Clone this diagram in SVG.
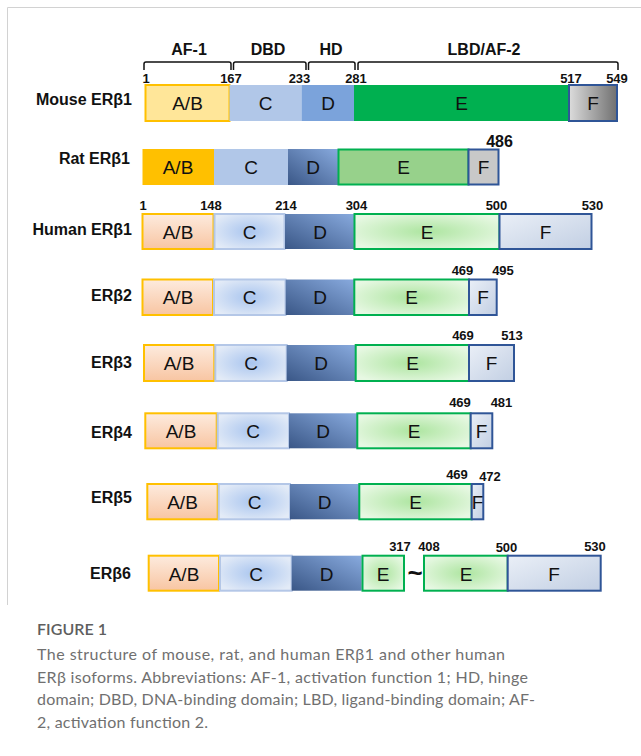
<svg xmlns="http://www.w3.org/2000/svg" width="641" height="756" viewBox="0 0 641 756">
<style>
.lbl{font-family:"Liberation Sans",Arial,sans-serif;font-weight:bold;font-size:16px;fill:#111;text-anchor:end}
.br{font-family:"Liberation Sans",Arial,sans-serif;font-weight:bold;font-size:16px;fill:#111;text-anchor:middle}
.num{font-family:"Liberation Sans",Arial,sans-serif;font-weight:bold;font-size:13px;fill:#111;text-anchor:middle}
.dom{font-family:"Liberation Sans",Arial,sans-serif;font-size:19px;fill:#111;text-anchor:middle}
.brk{fill:none;stroke:#111;stroke-width:1.5}
.ab{fill:url(#abG);stroke:#FFC000;stroke-width:2}
.c{fill:url(#cG);stroke:#B4C7E7;stroke-width:2}
.d{fill:url(#dG)}
.e{fill:url(#eG);stroke:#00B050;stroke-width:2}
.f{fill:url(#fG);stroke:#2F5597;stroke-width:2}
.cap{font-family:"Lato","Open Sans",sans-serif;font-size:16px;fill:#707070}
</style>
<defs>
<linearGradient id="abG" x1="0" y1="0" x2="0" y2="1"><stop offset="0" stop-color="#FDEBDE"/><stop offset="1" stop-color="#F8C5A2"/></linearGradient>
<radialGradient id="cG" cx="0.5" cy="0.5" r="0.6"><stop offset="0" stop-color="#A9C5EF"/><stop offset="1" stop-color="#E3EBF7"/></radialGradient>
<linearGradient id="dG" x1="0" y1="1" x2="1" y2="0"><stop offset="0" stop-color="#3A5787"/><stop offset="1" stop-color="#88AADE"/></linearGradient>
<radialGradient id="eG" cx="0.5" cy="0.5" r="0.6"><stop offset="0" stop-color="#ADE5A0"/><stop offset="1" stop-color="#E7F8E3"/></radialGradient>
<linearGradient id="fG" x1="0" y1="0" x2="1" y2="1"><stop offset="0" stop-color="#EAEFF7"/><stop offset="1" stop-color="#C2CFE3"/></linearGradient>
<linearGradient id="mF" x1="0" y1="0" x2="1" y2="0"><stop offset="0" stop-color="#DCDCDC"/><stop offset="1" stop-color="#707070"/></linearGradient>
</defs>
<rect width="641" height="756" fill="#fff"/>
<path d="M7.5,605 V7.5 H641" fill="none" stroke="#d2d2d2" stroke-width="1"/>

<g id="brackets">
<path class="brk" d="M144,70 V64 Q144,62 146,62 H229 Q231,62 231,64 V70"/>
<path class="brk" d="M233.5,70 V64 Q233.5,62 235.5,62 H304 Q306,62 306,64 V70"/>
<path class="brk" d="M308.5,70 V64 Q308.5,62 310.5,62 H353 Q355,62 355,64 V70"/>
<path class="brk" d="M358,70 V64 Q358,62 360,62 H616 Q618,62 618,64 V70"/>
<text class="br" x="189" y="55">AF-1</text>
<text class="br" x="268" y="55">DBD</text>
<text class="br" x="331" y="55">HD</text>
<text class="br" x="484" y="55">LBD/AF-2</text>
</g>

<g id="mouse">
<text class="lbl" x="132" y="105">Mouse ERβ1</text>
<rect x="145.5" y="85" width="84" height="36" fill="#FFE699" stroke="#FFC000" stroke-width="2"/>
<rect x="229.5" y="85" width="72" height="36" fill="#B1C7E8"/>
<rect x="301.5" y="85" width="52.5" height="36" fill="#7BA3DB"/>
<rect x="354" y="85" width="215" height="36" fill="#00B050"/>
<rect x="569" y="85" width="48" height="36" fill="url(#mF)" stroke="#2F5597" stroke-width="2"/>
<text class="dom" x="187.5" y="110">A/B</text>
<text class="dom" x="265.5" y="110">C</text>
<text class="dom" x="328" y="110">D</text>
<text class="dom" x="461.5" y="110">E</text>
<text class="dom" x="593" y="110">F</text>
<text class="num" x="146" y="83">1</text>
<text class="num" x="231" y="83">167</text>
<text class="num" x="299.5" y="83">233</text>
<text class="num" x="356" y="83">281</text>
<text class="num" x="571" y="83">517</text>
<text class="num" x="617" y="83">549</text>
</g>

<g id="rat">
<text class="lbl" x="130" y="164">Rat ERβ1</text>
<rect x="142.5" y="149" width="71.5" height="36" fill="#FFC000"/>
<rect x="214" y="149" width="74" height="36" fill="#B1C7E8"/>
<rect class="d" x="288" y="149" width="50" height="36"/>
<rect x="338.5" y="149.5" width="130" height="35" fill="#97D18B" stroke="#00B050" stroke-width="2"/>
<rect x="468.5" y="149.5" width="30" height="35" fill="#C8C8C8" stroke="#2F5597" stroke-width="2"/>
<text class="dom" x="178" y="174">A/B</text>
<text class="dom" x="251" y="174">C</text>
<text class="dom" x="313" y="174">D</text>
<text class="dom" x="403.5" y="174">E</text>
<text class="dom" x="483.5" y="174">F</text>
<text class="num" x="499.5" y="147" style="font-size:16px">486</text>
</g>

<g id="human">
<text class="lbl" x="132" y="235">Human ERβ1</text>
<rect class="ab" x="142.5" y="214" width="71" height="35"/>
<rect class="c" x="214.5" y="214" width="70" height="35"/>
<rect class="d" x="285" y="214" width="69.5" height="35"/>
<rect class="e" x="354.5" y="214" width="145" height="35"/>
<rect class="f" x="499.5" y="214" width="92" height="35"/>
<text class="dom" x="178" y="238.5">A/B</text>
<text class="dom" x="249.5" y="238.5">C</text>
<text class="dom" x="320" y="238.5">D</text>
<text class="dom" x="427" y="238.5">E</text>
<text class="dom" x="545.5" y="238.5">F</text>
<text class="num" x="143" y="210">1</text>
<text class="num" x="211" y="210">148</text>
<text class="num" x="286" y="210">214</text>
<text class="num" x="356.5" y="210">304</text>
<text class="num" x="496.5" y="210">500</text>
<text class="num" x="592.5" y="210">530</text>
</g>

<g id="erb2">
<text class="lbl" x="132" y="301">ERβ2</text>
<rect class="ab" x="142.5" y="279.5" width="70.5" height="35.5"/>
<rect class="c" x="214" y="279.5" width="71.5" height="35.5"/>
<rect class="d" x="285.7" y="279.5" width="68.6" height="35.5"/>
<rect class="e" x="354.3" y="279.5" width="114.7" height="35.5"/>
<rect class="f" x="469" y="279.5" width="27.7" height="35.5"/>
<text class="dom" x="178" y="304">A/B</text>
<text class="dom" x="249.5" y="304">C</text>
<text class="dom" x="320" y="304">D</text>
<text class="dom" x="411.5" y="304">E</text>
<text class="dom" x="483" y="304">F</text>
<text class="num" x="462.5" y="275">469</text>
<text class="num" x="503" y="275">495</text>
</g>

<g id="erb3">
<text class="lbl" x="132" y="367.5">ERβ3</text>
<rect class="ab" x="144" y="345" width="70.3" height="36"/>
<rect class="c" x="215.3" y="345" width="71.4" height="36"/>
<rect class="d" x="286.7" y="345" width="69" height="36"/>
<rect class="e" x="355.7" y="345" width="113.3" height="36"/>
<rect class="f" x="469" y="345" width="45" height="36"/>
<text class="dom" x="179" y="370">A/B</text>
<text class="dom" x="251" y="370">C</text>
<text class="dom" x="321" y="370">D</text>
<text class="dom" x="412.5" y="370">E</text>
<text class="dom" x="491.5" y="370">F</text>
<text class="num" x="463" y="340">469</text>
<text class="num" x="512" y="340">513</text>
</g>

<g id="erb4">
<text class="lbl" x="132" y="437.5">ERβ4</text>
<rect class="ab" x="145.3" y="413.3" width="71.4" height="35"/>
<rect class="c" x="217.7" y="413.3" width="71.3" height="35"/>
<rect class="d" x="289" y="413.3" width="68.3" height="35"/>
<rect class="e" x="357.3" y="413.3" width="113.4" height="35"/>
<rect class="f" x="470.7" y="413.3" width="21.6" height="35"/>
<text class="dom" x="181" y="438">A/B</text>
<text class="dom" x="253" y="438">C</text>
<text class="dom" x="323" y="438">D</text>
<text class="dom" x="414" y="438">E</text>
<text class="dom" x="481.5" y="438">F</text>
<text class="num" x="460" y="407">469</text>
<text class="num" x="501.5" y="407">481</text>
</g>

<g id="erb5">
<text class="lbl" x="132" y="502.5">ERβ5</text>
<rect class="ab" x="147.3" y="484" width="70.4" height="35.3"/>
<rect class="c" x="218.7" y="484" width="71.3" height="35.3"/>
<rect class="d" x="290" y="484" width="69.3" height="35.3"/>
<rect class="e" x="359.3" y="484" width="112.4" height="35.3"/>
<rect class="f" x="471.7" y="484" width="11.6" height="35.3"/>
<text class="dom" x="182.5" y="508.5">A/B</text>
<text class="dom" x="254.5" y="508.5">C</text>
<text class="dom" x="324.5" y="508.5">D</text>
<text class="dom" x="415.5" y="508.5">E</text>
<text class="dom" x="477.5" y="508.5">F</text>
<text class="num" x="457" y="479">469</text>
<text class="num" x="490" y="481">472</text>
</g>

<g id="erb6">
<text class="lbl" x="131" y="579">ERβ6</text>
<rect class="ab" x="148.7" y="555.7" width="70.3" height="35"/>
<rect class="c" x="220" y="555.7" width="71.7" height="35"/>
<rect class="d" x="291.7" y="555.7" width="70" height="35"/>
<rect class="e" x="362.5" y="555.7" width="41.5" height="35"/>
<rect class="e" x="424" y="555.7" width="83.7" height="35"/>
<rect class="f" x="507.7" y="555.7" width="93" height="35"/>
<text class="dom" x="184" y="580.5">A/B</text>
<text class="dom" x="256" y="580.5">C</text>
<text class="dom" x="326.5" y="580.5">D</text>
<text class="dom" x="383" y="580.5">E</text>
<text class="dom" x="466" y="580.5">E</text>
<text class="dom" x="554" y="580.5">F</text>
<text x="415" y="582" style="font-family:'Liberation Sans',Arial,sans-serif;font-weight:bold;font-size:26px;fill:#111;text-anchor:middle">~</text>
<text class="num" x="400" y="551">317</text>
<text class="num" x="429" y="551">408</text>
<text class="num" x="506.5" y="552">500</text>
<text class="num" x="595" y="551">530</text>
</g>

<g id="caption">
<text class="cap" x="37" y="635" style="font-weight:600;fill:#5e5e5e" textLength="70">FIGURE 1</text>
<text class="cap" x="37" y="660" textLength="468">The structure of mouse, rat, and human ERβ1 and other human</text>
<text class="cap" x="37" y="682.5" textLength="491">ERβ isoforms. Abbreviations: AF-1, activation function 1; HD, hinge</text>
<text class="cap" x="37" y="705" textLength="498">domain; DBD, DNA-binding domain; LBD, ligand-binding domain; AF-</text>
<text class="cap" x="37" y="727.5" textLength="171">2, activation function 2.</text>
</g>
</svg>
